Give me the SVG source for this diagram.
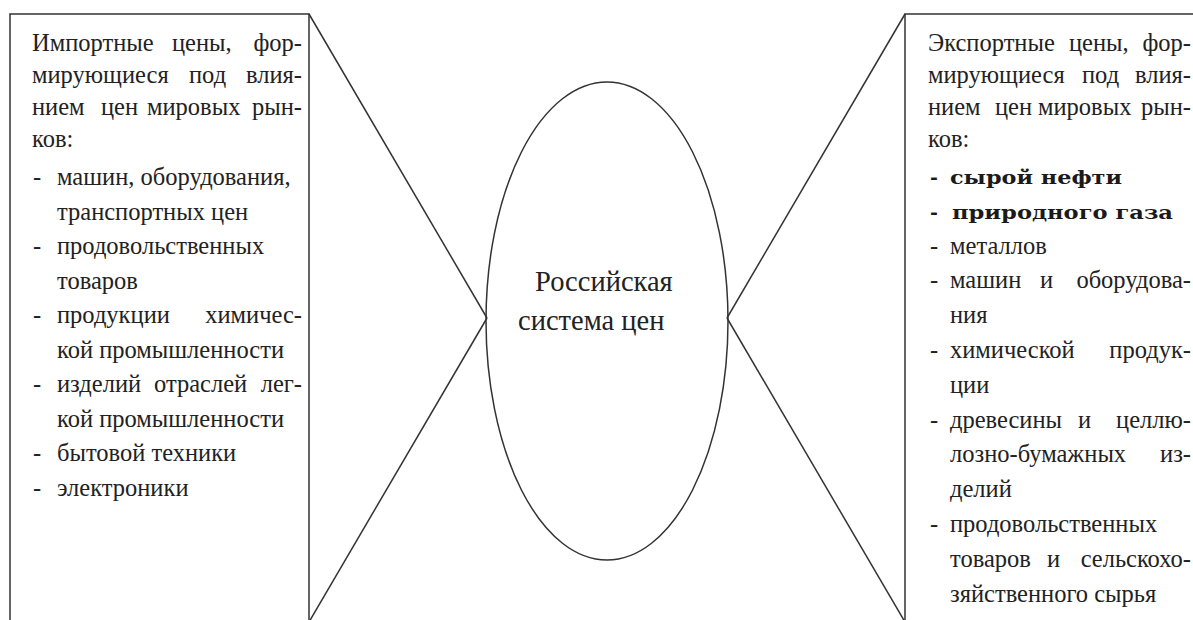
<svg xmlns="http://www.w3.org/2000/svg" width="1193" height="620" viewBox="0 0 1193 620">
<style>
.t{font-family:"Liberation Serif",serif;font-size:24.5px;fill:#222}
.b{font-family:"DejaVu Serif",serif;font-size:19px;font-weight:bold;fill:#1a1a1a}
.c{font-family:"Liberation Serif",serif;font-size:28.5px;fill:#222}
.e{text-anchor:end}
.ln{stroke:#333;stroke-width:1.5;fill:none}
</style>
<rect width="1193" height="620" fill="#fff"/>
<g id="connectors">
<line class="ln" x1="309" y1="14" x2="487" y2="318"/>
<line class="ln" x1="487" y1="318" x2="309" y2="622"/>
<line class="ln" x1="905" y1="14" x2="727" y2="318"/>
<line class="ln" x1="727" y1="318" x2="905" y2="622"/>
</g>
<g id="import-box">
<path class="ln" d="M10,630 V14 H309 V630"/>
<text class="t" x="32" y="51">Импортные</text><text class="t" x="172" y="51">цены,</text><text class="t e" x="302" y="51">фор-</text>
<text class="t" x="32" y="83">мирующиеся</text><text class="t" x="189" y="83">под</text><text class="t e" x="302" y="83">влия-</text>
<text class="t" x="32" y="115">нием</text><text class="t" x="101" y="115">цен</text><text class="t" x="147" y="115">мировых</text><text class="t e" x="302" y="115">рын-</text>
<text class="t" x="32" y="147">ков:</text>
<text class="t" x="33" y="185">-</text><text class="t" x="57" y="185">машин, оборудования,</text>
<text class="t" x="57" y="219.5">транспортных цен</text>
<text class="t" x="33" y="254">-</text><text class="t" x="57" y="254">продовольственных</text>
<text class="t" x="57" y="288.5">товаров</text>
<text class="t" x="33" y="323">-</text><text class="t" x="57" y="323">продукции</text><text class="t e" x="302" y="323">химичес-</text>
<text class="t" x="57" y="357.5">кой промышленности</text>
<text class="t" x="33" y="392">-</text><text class="t" x="57" y="392">изделий</text><text class="t" x="154" y="392">отраслей</text><text class="t e" x="302" y="392">лег-</text>
<text class="t" x="57" y="426.5">кой промышленности</text>
<text class="t" x="33" y="461">-</text><text class="t" x="57" y="461">бытовой техники</text>
<text class="t" x="33" y="495.5">-</text><text class="t" x="57" y="495.5">электроники</text>
</g>
<g id="center">
<ellipse class="ln" cx="607" cy="321" rx="121" ry="239"/>
<text class="c" x="535" y="291">Российская</text>
<text class="c" x="518" y="330">система цен</text>
</g>
<g id="export-box">
<path class="ln" d="M905,630 V14 H1195"/>
<text class="t" x="928" y="51">Экспортные</text><text class="t" x="1069" y="51">цены,</text><text class="t e" x="1191" y="51">фор-</text>
<text class="t" x="928" y="83">мирующиеся</text><text class="t" x="1082" y="83">под</text><text class="t e" x="1191" y="83">влия-</text>
<text class="t" x="928" y="115">нием</text><text class="t" x="995" y="115">цен</text><text class="t" x="1038" y="115">мировых</text><text class="t e" x="1191" y="115">рын-</text>
<text class="t" x="928" y="147">ков:</text>
<text class="b" x="930" y="184">-</text><text class="b" x="950" y="184" textLength="172" lengthAdjust="spacingAndGlyphs">сырой нефти</text>
<text class="b" x="930" y="218.8">-</text><text class="b" x="952" y="218.8" textLength="221" lengthAdjust="spacingAndGlyphs">природного газа</text>
<text class="t" x="930" y="253.6">-</text><text class="t" x="950" y="253.6">металлов</text>
<text class="t" x="930" y="288.4">-</text><text class="t" x="950" y="288.4">машин</text><text class="t" x="1040" y="288.4">и</text><text class="t e" x="1191" y="288.4">оборудова-</text>
<text class="t" x="950" y="323.2">ния</text>
<text class="t" x="930" y="358">-</text><text class="t" x="950" y="358">химической</text><text class="t e" x="1191" y="358">продук-</text>
<text class="t" x="950" y="392.8">ции</text>
<text class="t" x="930" y="427.6">-</text><text class="t" x="950" y="427.6">древесины</text><text class="t" x="1078" y="427.6">и</text><text class="t e" x="1191" y="427.6">целлю-</text>
<text class="t" x="950" y="462.4">лозно-бумажных</text><text class="t e" x="1191" y="462.4">из-</text>
<text class="t" x="950" y="497.2">делий</text>
<text class="t" x="930" y="532">-</text><text class="t" x="950" y="532">продовольственных</text>
<text class="t" x="950" y="566.8">товаров</text><text class="t" x="1047" y="566.8">и</text><text class="t e" x="1191" y="566.8">сельскохо-</text>
<text class="t" x="950" y="601.6">зяйственного сырья</text>
</g>
</svg>
